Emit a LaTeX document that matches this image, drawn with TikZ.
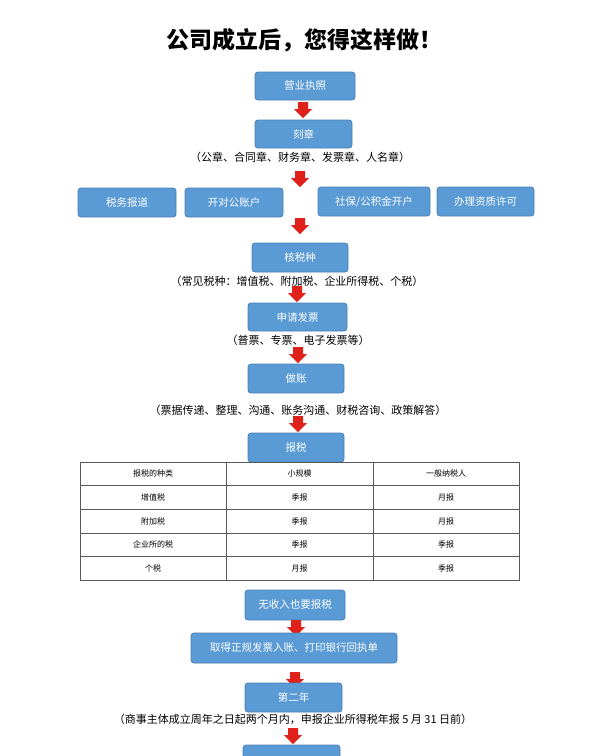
\documentclass[tikz,border=0pt]{standalone}
\usepackage{fontspec}
\newfontfamily\cjk{Noto Sans CJK SC}
\begin{document}
\begin{tikzpicture}[x=1pt,y=-1pt,
  bx/.style={draw=boxedge,fill=boxfill,rounded corners=3pt,line width=0.8pt},
  note/.style={font=\cjk\fontsize{11}{13}\selectfont},
  cell/.style={font=\cjk\fontsize{8}{10}\selectfont}]
\definecolor{boxfill}{HTML}{5B9BD5}
\definecolor{boxedge}{HTML}{4A7FB5}
\definecolor{arr}{HTML}{E0201B}
\useasboundingbox (0,0) rectangle (600,756);
\fill[white] (0,0) rectangle (600,756);
\newcommand\redarrow[2]{\fill[arr] (#1-5,#2) -- (#1+5,#2) -- (#1+5,#2+7) -- (#1+9,#2+7) -- (#1,#2+16) -- (#1-9,#2+7) -- (#1-5,#2+7) -- cycle;}
\node[font=\cjk\bfseries\fontsize{23}{27}\selectfont] (title) at (304,40) {公司成立后，您得这样做！};
\newcommand\bxat[6]{\draw[bx] (#2,#3) rectangle (#4,#5); \node[text=white,font=\cjk\fontsize{10.5}{12}\selectfont] (#1) at ({(#2+#4)/2},{(#3+#5)/2}) {#6};}
\bxat{b1}{255}{72}{355}{100}{营业执照}
\redarrow{303}{102}
\bxat{b2}{255}{120}{352}{148}{刻章}
\node[note] (n2) at (300,157) {（公章、合同章、财务章、发票章、人名章）};
\redarrow{300}{171}
\bxat{r1}{78}{188}{176}{217}{税务报道}
\bxat{r2}{185}{188}{283}{217}{开对公账户}
\bxat{r3}{318}{187}{430}{216}{社保/公积金开户}
\bxat{r4}{437}{187}{534}{216}{办理资质许可}
\redarrow{300}{218}
\bxat{b3}{252}{243}{348}{272}{核税种}
\node[note] (n3) at (297,281) {（常见税种：增值税、附加税、企业所得税、个税）};
\redarrow{297}{286}
\bxat{b4}{248}{303}{347}{331}{申请发票}
\node[note] (n4) at (298,340) {（普票、专票、电子发票等）};
\redarrow{298}{347}
\bxat{b5}{248}{364}{344}{393}{做账}
\node[note] (n5) at (298,410) {（票据传递、整理、沟通、账务沟通、财税咨询、政策解答）};
\redarrow{298}{416}
\bxat{b6}{248}{433}{344}{462}{报税}
\draw[gray!70!black,line width=0.5pt] (80,462) rectangle (519,580);
\foreach \y in {485.6,509.2,532.8,556.4} \draw[gray!70!black,line width=0.5pt] (80,\y) -- (519,\y);
\foreach \x in {226,373} \draw[gray!70!black,line width=0.5pt] (\x,462) -- (\x,580);
\foreach \a/\b/\c [count=\i] in {报税的种类/小规模/一般纳税人,增值税/季报/月报,附加税/季报/月报,企业所的税/季报/季报,个税/月报/季报}{
  \node[cell] (ta\i) at (153,{462+23.6*(\i-0.5)}) {\a};
  \node[cell] (tb\i) at (299.5,{462+23.6*(\i-0.5)}) {\b};
  \node[cell] (tc\i) at (446,{462+23.6*(\i-0.5)}) {\c};}
\bxat{b7}{245}{590}{345}{620}{无收入也要报税}
\redarrow{296}{620}
\bxat{b8}{191}{633}{397}{663}{取得正规发票入账、打印银行回执单}
\redarrow{295}{672}
\bxat{b9}{245}{683}{342}{712}{第二年}
\node[note] (n9) at (293,719) {（商事主体成立周年之日起两个月内，申报企业所得税年报 5 月 31 日前）};
\redarrow{293}{728}
\draw[bx] (243,745) rectangle (340,770);
\end{tikzpicture}
\end{document}
